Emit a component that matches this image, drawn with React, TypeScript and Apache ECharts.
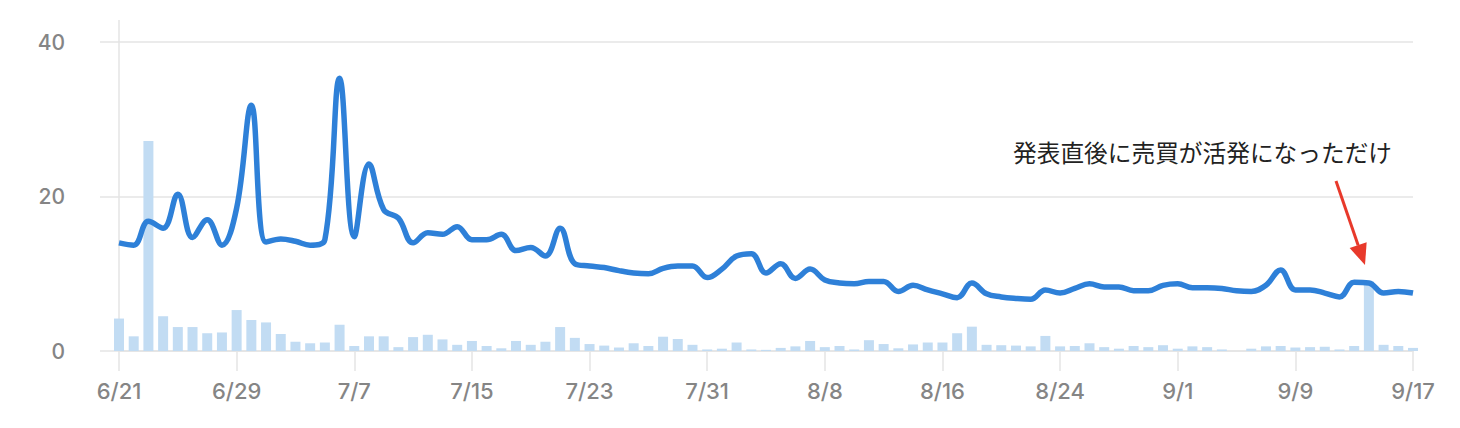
import React, { useEffect, useRef } from "react";
import * as echarts from "echarts";

// Categories: daily dates 6/21 .. 9/17
const startMonth = 6;
const startDay = 21;
const dayCount = 89;
const monthLengths: Record<number, number> = { 6: 30, 7: 31, 8: 31, 9: 30 };
const dates: string[] = (() => {
  const out: string[] = [];
  let m = startMonth;
  let d = startDay;
  for (let i = 0; i < dayCount; i++) {
    out.push(`${m}/${d}`);
    d++;
    if (d > monthLengths[m]) {
      d = 1;
      m++;
    }
  }
  return out;
})();

// Line series (smoothed)
const lineValues: number[] = [
  14.0, 13.7, 16.8, 15.9, 20.3, 14.7, 17.0, 13.7, 18.5, 31.8,
  14.1, 14.5, 14.2, 13.7, 14.4, 35.3, 14.8, 24.2, 18.3, 17.2,
  14.0, 15.3, 15.1, 16.1, 14.4, 14.4, 15.1, 13.0, 13.4, 12.3,
  15.9, 11.3, 11.0, 10.8, 10.4, 10.1, 10.0, 10.7, 11.0, 11.0,
  9.5, 10.6, 12.3, 12.6, 10.1, 11.3, 9.4, 10.6, 9.2, 8.8,
  8.7, 9.0, 9.0, 7.7, 8.5, 7.9, 7.4, 6.9, 8.8, 7.4,
  7.0, 6.8, 6.7, 7.9, 7.5, 8.1, 8.7, 8.3, 8.3, 7.8,
  7.8, 8.5, 8.7, 8.2, 8.2, 8.1, 7.8, 7.7, 8.5, 10.5,
  7.9, 7.9, 7.5, 7.0, 8.9, 8.8, 7.5, 7.7, 7.5,
];

// Bar series
const barValues: number[] = [
  4.2, 1.9, 27.2, 4.5, 3.1, 3.1, 2.3, 2.4, 5.3, 4.0,
  3.7, 2.2, 1.2, 1.0, 1.1, 3.4, 0.65, 1.9, 1.9, 0.5,
  1.8, 2.1, 1.5, 0.8, 1.3, 0.65, 0.35, 1.3, 0.8, 1.2,
  3.1, 1.7, 0.9, 0.7, 0.45, 1.0, 0.65, 1.85, 1.55, 0.8,
  0.2, 0.3, 1.1, 0.2, 0.15, 0.4, 0.6, 1.3, 0.5, 0.65,
  0.2, 1.4, 0.9, 0.35, 0.85, 1.1, 1.1, 2.3, 3.15, 0.8,
  0.75, 0.7, 0.6, 1.95, 0.6, 0.65, 1.0, 0.5, 0.3, 0.65,
  0.5, 0.75, 0.3, 0.6, 0.5, 0.2, 0, 0.3, 0.6, 0.65,
  0.45, 0.5, 0.55, 0.2, 0.65, 9.0, 0.8, 0.65, 0.4,
];

const yTicks = { min: 0, max: 40, interval: 20 };
const annotationText = "発表直後に売買が活発になっただけ";

const GRID_COLOR = "#e4e4e4";
const LABEL_COLOR = "#858585";
const LABEL_FONT = "Inter, 'Noto Sans', sans-serif";

export default function App() {
  const ref = useRef<HTMLDivElement | null>(null);

  useEffect(() => {
    if (!ref.current) return;
    const chart = echarts.init(ref.current, undefined, { renderer: "svg" });

    // arrow geometry (annotation)
    const tail = [1336, 181];
    const tip = [1365, 265];
    const dx = tip[0] - tail[0];
    const dy = tip[1] - tail[1];
    const len = Math.sqrt(dx * dx + dy * dy);
    const ux = dx / len;
    const uy = dy / len;
    const headLen = 21;
    const headHalf = 9;
    const bx = tip[0] - ux * headLen;
    const by = tip[1] - uy * headLen;

    chart.setOption({
      animation: false,
      backgroundColor: "#ffffff",
      grid: { left: 119, right: 47, top: 42, bottom: 77, containLabel: false },
      xAxis: {
        type: "category",
        data: dates,
        boundaryGap: false,
        axisLine: { show: true, lineStyle: { color: GRID_COLOR, width: 1.5 } },
        axisTick: {
          show: true,
          interval: 7,
          length: 20,
          lineStyle: { color: GRID_COLOR, width: 1.5 },
        },
        axisLabel: {
          interval: 7,
          margin: 29,
          color: LABEL_COLOR,
          fontSize: 22,
          fontWeight: 500,
          fontFamily: LABEL_FONT,
        },
        splitLine: { show: false },
      },
      yAxis: {
        type: "value",
        min: yTicks.min,
        max: yTicks.max,
        interval: yTicks.interval,
        axisLine: { show: true, lineStyle: { color: GRID_COLOR, width: 1.5 } },
        axisTick: { show: true, length: 19, lineStyle: { color: GRID_COLOR, width: 1.5 } },
        axisLabel: {
          margin: 54,
          color: LABEL_COLOR,
          fontSize: 21,
          fontWeight: 500,
          fontFamily: LABEL_FONT,
        },
        splitLine: { show: true, lineStyle: { color: GRID_COLOR, width: 1.5 } },
      },
      series: [
        {
          type: "bar",
          data: barValues,
          barWidth: 10,
          clip: false,
          itemStyle: { color: "#c2dcf3" },
          z: 1,
        },
        {
          type: "line",
          data: lineValues,
          smooth: 0.4,
          symbol: "none",
          clip: false,
          lineStyle: { color: "#2e80d8", width: 5.5 },
          z: 3,
        },
      ],
      graphic: [
        {
          type: "line",
          shape: { x1: 119, y1: 20, x2: 119, y2: 42 },
          style: { stroke: GRID_COLOR, lineWidth: 1.5 },
          silent: true,
        },
        {
          type: "text",
          x: 1013,
          y: 152,
          style: {
            text: annotationText,
            fill: "#222222",
            fontSize: 23.7,
            fontFamily: "'Noto Sans CJK JP', sans-serif",
            verticalAlign: "middle",
            align: "left",
          },
          z: 10,
        },
        {
          type: "line",
          shape: { x1: tail[0], y1: tail[1], x2: bx, y2: by },
          style: { stroke: "#e8392b", lineWidth: 3 },
          z: 10,
        },
        {
          type: "polygon",
          shape: {
            points: [
              [tip[0], tip[1]],
              [bx - uy * headHalf, by + ux * headHalf],
              [bx + uy * headHalf, by - ux * headHalf],
            ],
          },
          style: { fill: "#e8392b" },
          z: 10,
        },
      ],
    });

    return () => {
      chart.dispose();
    };
  }, []);

  return (
    <div
      ref={ref}
      style={{ position: "fixed", left: 0, top: 0, width: 1460, height: 428, background: "#fff" }}
    />
  );
}
